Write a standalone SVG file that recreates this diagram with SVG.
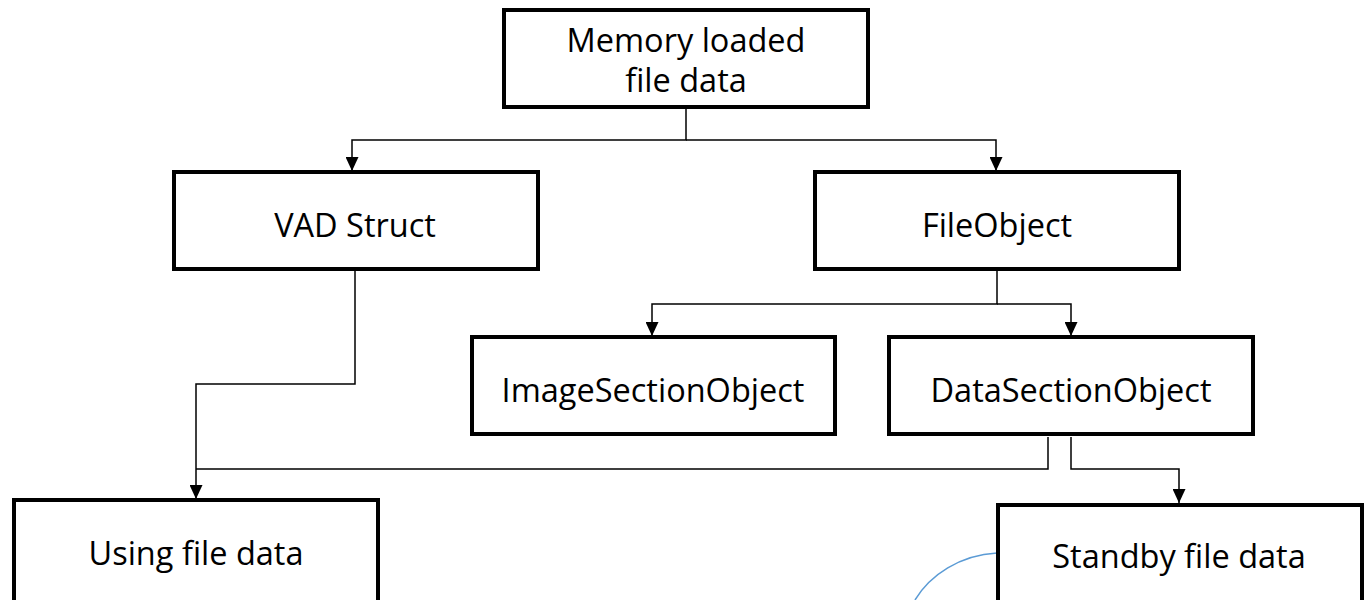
<svg xmlns="http://www.w3.org/2000/svg" width="1367" height="600" viewBox="0 0 1367 600">
<style>
.box{fill:#fff;stroke:#000;stroke-width:4}
.t{font-family:"Open Sans","Noto Sans",sans-serif;font-size:32.5px;fill:#000;text-anchor:middle}
.c{fill:none;stroke:#000;stroke-width:1.5}
</style>
<defs>
<marker id="ah" markerWidth="14" markerHeight="13" refX="14" refY="6.5" orient="auto" markerUnits="userSpaceOnUse" viewBox="0 0 14 13">
<path d="M0,0 L14,6.5 L0,13 Z" fill="#000"/>
</marker>
</defs>
<rect width="1367" height="600" fill="#fff"/>
<g id="connectors">
<path class="c" d="M686,107 V140 H352 V171" marker-end="url(#ah)"/>
<path class="c" d="M686,140 H996 V171" marker-end="url(#ah)"/>
<path class="c" d="M997,270 V304 H652 V336" marker-end="url(#ah)"/>
<path class="c" d="M997,304 H1071 V336" marker-end="url(#ah)"/>
<path class="c" d="M355,270 V384 H196 V499" marker-end="url(#ah)"/>
<path class="c" d="M1048,437 V469 H196"/>
<path class="c" d="M1071,437 V469 H1179 V503" marker-end="url(#ah)"/>
<path d="M997,553 C960,555 930,575 915,600" fill="none" stroke="#5b9bd5" stroke-width="1.5"/>
</g>
<g id="n-memory"><rect class="box" x="504" y="10" width="364" height="97"/><text class="t" x="686" y="52">Memory loaded</text><text class="t" x="686" y="92">file data</text></g>
<g id="n-vad"><rect class="box" x="174" y="172" width="364" height="97"/><text class="t" x="355" y="237">VAD Struct</text></g>
<g id="n-fileobject"><rect class="box" x="815" y="172" width="364" height="97"/><text class="t" x="997" y="237">FileObject</text></g>
<g id="n-image"><rect class="box" x="472" y="337" width="363" height="97"/><text class="t" x="653" y="402">ImageSectionObject</text></g>
<g id="n-data"><rect class="box" x="889" y="337" width="364" height="97"/><text class="t" x="1071" y="402">DataSectionObject</text></g>
<g id="n-using"><rect class="box" x="14" y="500" width="364" height="110"/><text class="t" x="196" y="565">Using file data</text></g>
<g id="n-standby"><rect class="box" x="998" y="505" width="364" height="110"/><text class="t" x="1179" y="568">Standby file data</text></g>
</svg>
